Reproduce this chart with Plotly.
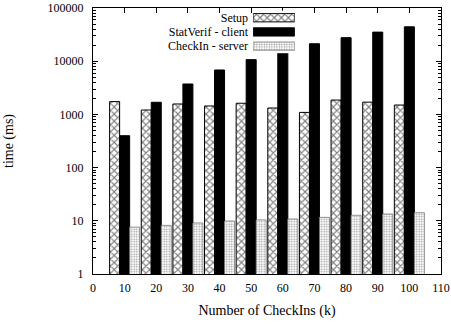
import plotly.graph_objects as go

checkins = [10, 20, 30, 40, 50, 60, 70, 80, 90, 100]
setup = [1740, 1210, 1570, 1440, 1620, 1320, 1090, 1860, 1700, 1500]
client = [398, 1690, 3730, 6840, 10700, 15500, 21300, 27700, 35200, 44300]
server = [7.6, 8.2, 9.1, 9.9, 10.4, 10.8, 11.6, 12.7, 13.4, 14.2]
series_names = ["Setup", "StatVerif - client", "CheckIn - server"]
y_ticks = [1, 10, 100, 1000, 10000, 100000]
y_ticktext = ["1", "10", "100", "1000", "10000", "100000"]

FONT = "Liberation Serif"

styles = [
    dict(color="white", line=dict(color="black", width=1),
         pattern=dict(shape="x", fgcolor="black", bgcolor="white", size=5, solidity=0.4, fillmode="overlay")),
    dict(color="black", line=dict(color="black", width=1)),
    dict(color="white", line=dict(color="#777", width=0.8),
         pattern=dict(shape=".", fgcolor="#333", bgcolor="white", size=2.5, solidity=0.35, fillmode="overlay")),
]

minor_vals = [m * 10 ** k for k in range(5) for m in range(2, 10)]

fig = go.Figure()
for name, vals, st in zip(series_names, [setup, client, server], styles):
    fig.add_trace(go.Bar(x=checkins, y=vals, name=name, marker=st, showlegend=False))

# custom legend: text on the left, wide sample on the right (inset axis)
for name, st in zip(series_names, styles):
    fig.add_trace(go.Bar(x=[1], y=[name], orientation="h", marker=st, xaxis="x2", yaxis="y2",
                         showlegend=False, hoverinfo="skip", width=0.58))

fig.update_layout(
    width=451, height=324,
    margin=dict(l=93, r=10, t=8, b=50),
    paper_bgcolor="white", plot_bgcolor="white",
    font=dict(family=FONT, size=12, color="black"),
    barmode="group", bargap=0.05, bargroupgap=0,
    xaxis=dict(range=[0, 110], dtick=10, tick0=0, ticks="inside", ticklen=5, tickcolor="black",
               showline=True, linecolor="black", linewidth=1, mirror="ticks", showgrid=False, zeroline=False,
               automargin=False, ticklabelstandoff=3,
               title=dict(text="Number of CheckIns (k)", standoff=10), tickfont=dict(size=12)),
    yaxis=dict(type="log", range=[0, 5.00001], ticks="inside", ticklen=5, tickcolor="black",
               showline=True, linecolor="black", linewidth=1, mirror="ticks", showgrid=False, zeroline=False,
               tickmode="array", tickvals=y_ticks, ticktext=y_ticktext, automargin=False,
               ticklabelstandoff=6,
               minor=dict(ticks="inside", ticklen=3, tickcolor="black", tickmode="array",
                          tickvals=minor_vals, showgrid=False),
               title=dict(text="time (ms)", standoff=30), tickfont=dict(size=12)),
    xaxis2=dict(domain=[0.46, 0.58], range=[0, 1], anchor="y2", visible=False, fixedrange=True),
    yaxis2=dict(domain=[0.83, 0.99], anchor="x2", type="category", autorange="reversed",
                categoryorder="array", categoryarray=series_names,
                tickmode="array", tickvals=series_names, ticktext=series_names,
                showline=False, showgrid=False, zeroline=False, ticks="", ticklabelstandoff=4,
                automargin=False, tickfont=dict(size=12, family=FONT), fixedrange=True),
)

fig.write_html("out.html", config={"displayModeBar": False},
               post_script="document.body.style.margin='0';document.body.style.overflow='hidden';")
